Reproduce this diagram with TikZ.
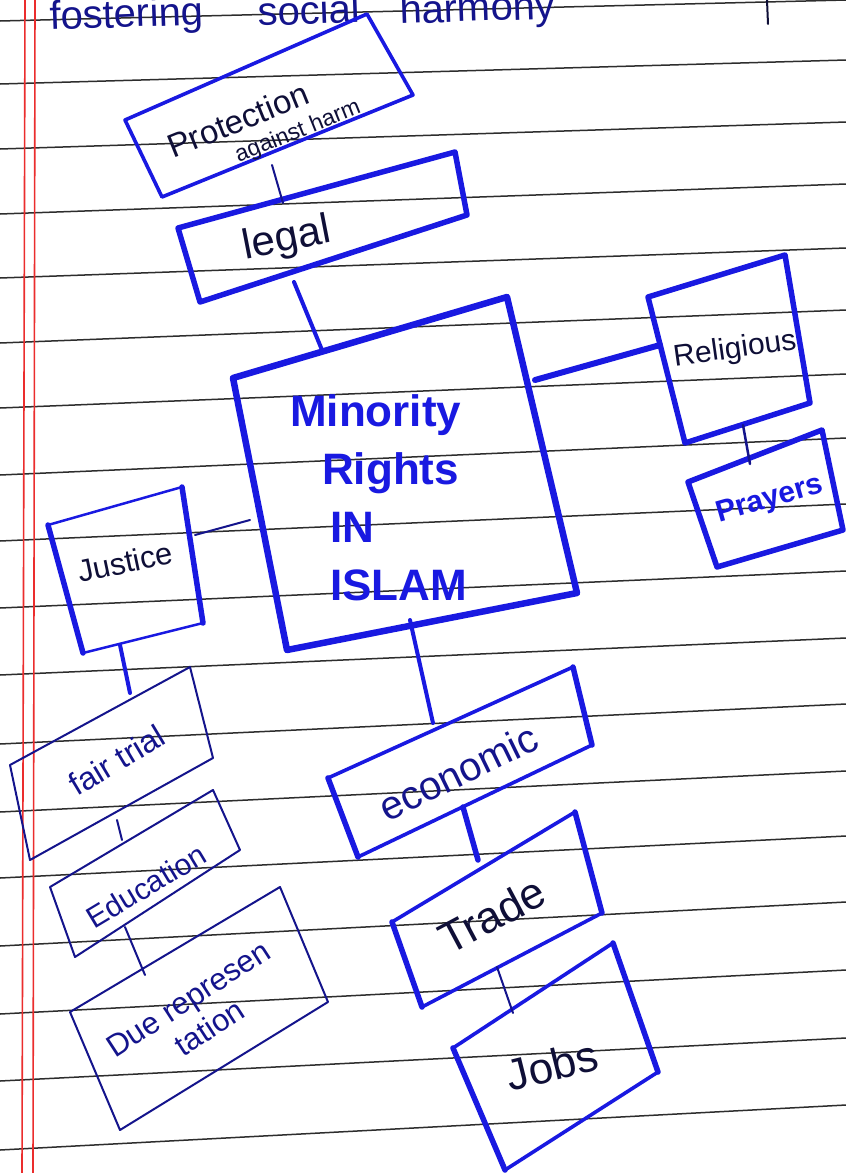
\documentclass[tikz,border=0pt]{standalone}
\usepackage{fontspec}
\setmainfont{Liberation Sans}
\definecolor{ink}{RGB}{25,25,225}
\definecolor{navy}{RGB}{20,20,140}
\definecolor{darkink}{RGB}{15,15,55}
\definecolor{rulecol}{RGB}{45,45,45}
\definecolor{margincol}{RGB}{235,45,45}
\begin{document}
\begin{tikzpicture}[x=1pt,y=-1pt, line join=round, line cap=round,
  paper/.style={draw=rulecol, line width=1.5pt},
  fat/.style={draw=ink, line width=5.5pt},
  mid/.style={draw=ink, line width=3.6pt},
  thinb/.style={draw=navy, line width=2pt},
  link/.style={draw=navy, line width=2pt},
  biglink/.style={draw=ink, line width=4pt},
  lab/.style={inner sep=0pt},
  fs/.style={font=\fontsize{#1}{#1}\selectfont}
]
\useasboundingbox (0,0) rectangle (846,1173);
\fill[white] (0,0) rectangle (846,1173);
% ruled paper
\foreach \l/\r in {21/0,84/60,149/122,214/184,278/248,343/310,408/374,475/438,541/504,608/571,675/638,744/704,812/771,878/836,946/902,1014/970,1081/1038,1150/1105}
  \draw[paper] (0,\l) -- (846,\r);
\draw[margincol, line width=1.6pt] (25,0) -- (22,1173);
\draw[margincol, line width=1.6pt] (35,0) -- (33,1173);

% heading cut off at the top
\node[lab, anchor=base west, rotate=2, text=navy, fs=40] (w1) at (50,30) {fostering};
\node[lab, anchor=base west, rotate=2, text=navy, fs=40] (w2) at (258,26) {social};
\node[lab, anchor=base west, rotate=2, text=navy, fs=40] (w3) at (400,24) {harmony};
\draw[darkink, line width=2pt] (767,0) -- (768,24);

% Protection against harm
\draw[mid] (125,120) -- (367,14) -- (413,95) -- (162,197) -- cycle;
\node[lab, text=darkink, rotate=22, fs=33] (prot) at (238,120) {Protection};
\node[lab, text=darkink, rotate=22, fs=23] (prot2) at (298,132) {against harm};
\coordinate (prot-s) at (272,165);

% legal
\draw[fat] (178,228) -- (455,152) -- (467,215) -- (200,302) -- cycle;
\node[lab, text=darkink, rotate=11, fs=42] (legal) at (287,240) {legal};
\coordinate (legal-n) at (283,203);
\coordinate (legal-s) at (294,282);
\draw[link] (prot-s) -- (legal-n);

% Minority Rights in Islam
\draw[fat, line width=6.5pt] (233,378) -- (507,297) -- (577,593) -- (287,650) -- cycle;
\node[lab, anchor=north west, align=left, text=ink, font=\fontsize{44}{58}\selectfont\bfseries] (min) at (290,394)
  {Minority\\\hspace{32pt}Rights\\\hspace{40pt}IN\\\hspace{40pt}ISLAM};
\coordinate (min-n) at (322,350);
\coordinate (min-e) at (535,380);
\coordinate (min-w) at (250,520);
\coordinate (min-s) at (410,620);
\draw[biglink] (legal-s) -- (min-n);

% Religious
\draw[fat] (648,297) -- (785,255) -- (810,403) -- (685,443) -- cycle;
\node[lab, text=darkink, rotate=8, fs=30] (rel) at (735,350) {Religious};
\coordinate (rel-w) at (660,345);
\coordinate (rel-s) at (743,425);
\draw[fat, line width=6pt] (min-e) -- (rel-w);

% Prayers
\draw[fat] (688,482) -- (822,430) -- (843,530) -- (717,567) -- cycle;
\node[lab, text=ink, rotate=16, font=\fontsize{30}{30}\selectfont\bfseries] (pray) at (770,500) {Prayers};
\coordinate (pray-n) at (750,464);
\draw[link, line width=2.5pt] (rel-s) -- (pray-n);

% Justice
\draw[thinb, draw=ink, line width=2.5pt] (48,525) -- (182,487) -- (203,623) -- (83,653) -- cycle;
\draw[fat] (48,525) -- (83,653);
\draw[fat] (182,487) -- (203,623);
\node[lab, text=darkink, rotate=12, fs=31] (just) at (125,562) {Justice};
\coordinate (just-e) at (195,535);
\coordinate (just-s) at (120,645);
\draw[link] (just-e) -- (min-w);

% fair trial
\draw[thinb] (10,765) -- (190,667) -- (213,758) -- (30,860) -- cycle;
\node[lab, text=navy, rotate=31, fs=32] (fair) at (117,760) {fair trial};
\coordinate (fair-n) at (130,693);
\coordinate (fair-s) at (117,820);
\draw[biglink] (just-s) -- (fair-n);

% Education
\draw[thinb] (50,887) -- (213,790) -- (240,850) -- (75,957) -- cycle;
\node[lab, text=navy, rotate=31, fs=30] (edu) at (146,886) {Education};
\coordinate (edu-n) at (122,840);
\coordinate (edu-s) at (125,927);
\draw[link] (fair-s) -- (edu-n);

% Due representation
\draw[thinb] (70,1012) -- (280,887) -- (328,1002) -- (120,1130) -- cycle;
\node[lab, text=navy, rotate=33, align=left, font=\fontsize{31}{36}\selectfont] (due) at (198,1014)
  {Due represen\\\hspace{58pt}tation};
\coordinate (due-n) at (145,975);
\draw[link] (edu-s) -- (due-n);

% economic
\draw[mid] (328,778) -- (573,667) -- (592,745) -- (358,857) -- cycle;
\draw[fat] (328,778) -- (358,857);
\draw[fat] (573,667) -- (592,745);
\node[lab, text=navy, rotate=26, fs=40] (eco) at (458,772) {economic};
\coordinate (eco-n) at (433,723);
\coordinate (eco-s) at (463,807);
\draw[biglink] (min-s) -- (eco-n);

% Trade
\draw[mid] (392,922) -- (575,812) -- (602,913) -- (422,1007) -- cycle;
\draw[fat] (392,922) -- (422,1007);
\draw[fat] (575,812) -- (602,913);
\node[lab, text=darkink, rotate=28, fs=44] (trade) at (492,915) {Trade};
\coordinate (trade-n) at (478,860);
\coordinate (trade-s) at (497,967);
\draw[fat] (eco-s) -- (trade-n);

% Jobs
\draw[mid] (453,1048) -- (613,943) -- (658,1072) -- (505,1170) -- cycle;
\draw[fat] (453,1048) -- (505,1170);
\draw[fat] (613,943) -- (658,1072);
\node[lab, text=darkink, rotate=14, fs=44] (jobs) at (552,1065) {Jobs};
\coordinate (jobs-n) at (513,1013);
\draw[link] (trade-s) -- (jobs-n);
\end{tikzpicture}
\end{document}
